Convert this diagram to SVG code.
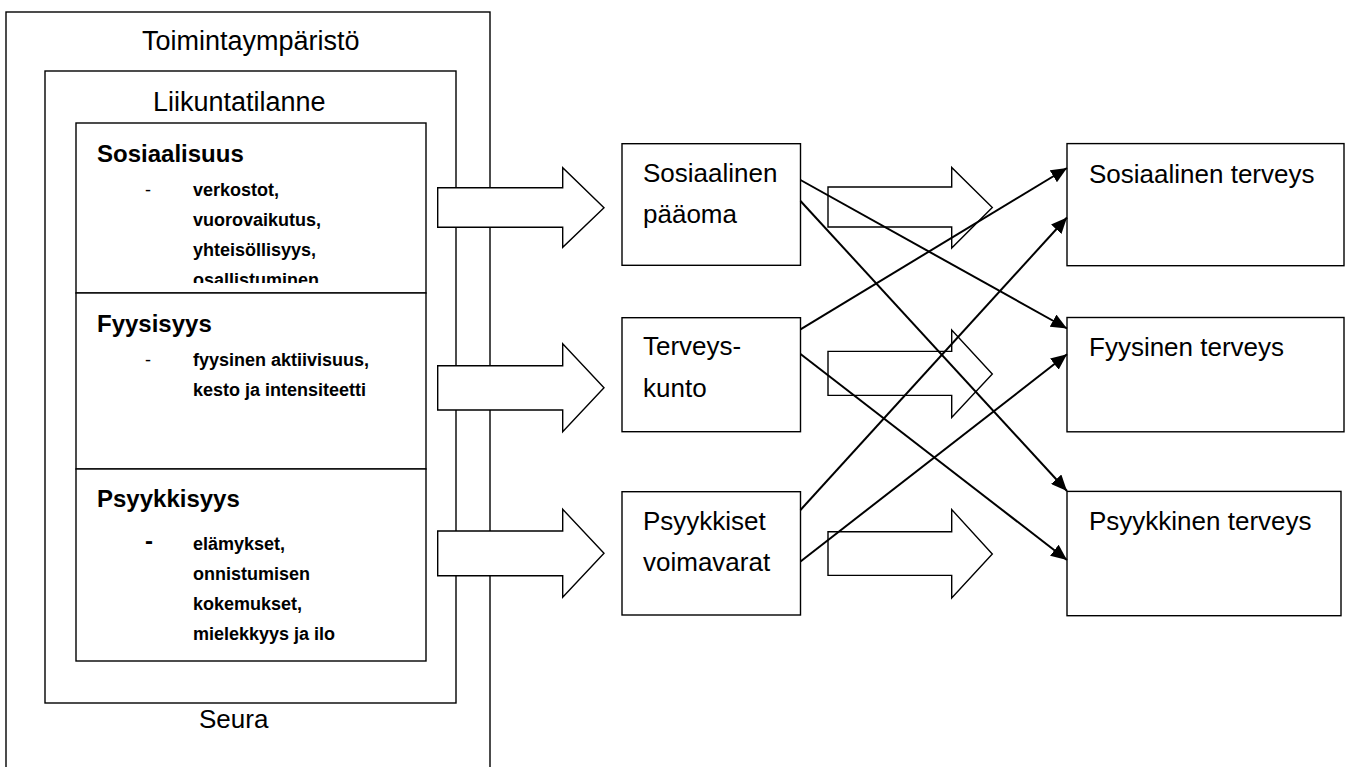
<svg xmlns="http://www.w3.org/2000/svg" width="1346" height="767" viewBox="0 0 1346 767">
<style>
.box{fill:#fff;stroke:#000;stroke-width:1.4}
.frame{fill:none;stroke:#000;stroke-width:1.4}
.barrow{fill:#fff;stroke:#000;stroke-width:1.4;stroke-linejoin:miter}
.con{fill:none;stroke:#000;stroke-width:2;marker-end:url(#ah)}
text{font-family:"Liberation Sans",Arial,sans-serif;fill:#000}
.t27{font-size:27px}
.t26{font-size:26px}
.h{font-size:24px;font-weight:bold}
.b{font-size:18px;font-weight:bold}
.d{font-size:18px}
</style>
<defs>
<marker id="ah" markerUnits="userSpaceOnUse" markerWidth="17" markerHeight="14" refX="16" refY="7" orient="auto">
<path d="M0,0 L16,7 L0,14 Z" fill="#000"/>
</marker>
<clipPath id="clipS"><rect x="76" y="123" width="350" height="160"/></clipPath>
</defs>
<rect width="1346" height="767" fill="#fff"/>

<g id="toimintaymparisto">
<rect class="frame" x="6" y="12" width="484" height="780"/>
<text class="t27" x="142" y="50">Toimintaympäristö</text>
<text class="t26" x="199" y="728">Seura</text>
</g>

<g id="liikuntatilanne">
<rect class="frame" x="45" y="71" width="411" height="632"/>
<text class="t27" x="153" y="111">Liikuntatilanne</text>
</g>

<g id="sosiaalisuus">
<rect class="box" x="76" y="123" width="350" height="170"/>
<text class="h" x="97" y="162">Sosiaalisuus</text>
<text class="d" x="145" y="196">-</text>
<g clip-path="url(#clipS)">
<text class="b" x="193" y="196">verkostot,</text>
<text class="b" x="193" y="226">vuorovaikutus,</text>
<text class="b" x="193" y="256">yhteisöllisyys,</text>
<text class="b" x="193" y="286">osallistuminen</text>
</g>
</g>

<g id="fyysisyys">
<rect class="box" x="76" y="293" width="350" height="176"/>
<text class="h" x="97" y="332">Fyysisyys</text>
<text class="d" x="145" y="366">-</text>
<text class="b" x="193" y="366">fyysinen aktiivisuus,</text>
<text class="b" x="193" y="396">kesto ja intensiteetti</text>
</g>

<g id="psyykkisyys">
<rect class="box" x="76" y="469" width="350" height="192"/>
<text class="h" x="97" y="507">Psyykkisyys</text>
<text class="h" x="145" y="549">-</text>
<text class="b" x="193" y="550">elämykset,</text>
<text class="b" x="193" y="580">onnistumisen</text>
<text class="b" x="193" y="610">kokemukset,</text>
<text class="b" x="193" y="640">mielekkyys ja ilo</text>
</g>

<g id="block-arrows">
<path class="barrow" d="M437.7,187.7 H562.7 V167.7 L604,207.7 L562.7,247.3 V227.3 H437.7 Z"/>
<path class="barrow" d="M437.7,365.7 H562.7 V343.7 L604,387.7 L562.7,431.7 V410 H437.7 Z"/>
<path class="barrow" d="M437.7,531 H562.7 V509.3 L604,553.3 L562.7,597.3 V575.7 H437.7 Z"/>
<path class="barrow" d="M828,187 H951.7 V167.5 L992.3,207.5 L951.7,248 V227 H828 Z"/>
<path class="barrow" d="M828,351.4 H951.7 V330 L992.3,374 L951.7,417.5 V395.4 H828 Z"/>
<path class="barrow" d="M828,531.8 H951.7 V509.6 L992.3,554 L951.7,597.9 V575.4 H828 Z"/>
</g>

<g id="sosiaalinen-paaoma">
<rect class="box" x="622" y="143.7" width="178.5" height="121.6"/>
<text class="t26" x="643" y="182">Sosiaalinen</text>
<text class="t26" x="643" y="223">pääoma</text>
</g>

<g id="terveyskunto">
<rect class="box" x="622" y="317.7" width="178.5" height="114"/>
<text class="t26" x="643" y="355">Terveys-</text>
<text class="t26" x="643" y="397">kunto</text>
</g>

<g id="psyykkiset-voimavarat">
<rect class="box" x="622" y="491.7" width="178.5" height="123.3"/>
<text class="t26" x="643" y="530">Psyykkiset</text>
<text class="t26" x="643" y="571">voimavarat</text>
</g>

<g id="sosiaalinen-terveys">
<rect class="box" x="1067" y="143.6" width="277" height="122.1"/>
<text class="t26" x="1089" y="183">Sosiaalinen terveys</text>
</g>

<g id="fyysinen-terveys">
<rect class="box" x="1067" y="317.5" width="277" height="114.3"/>
<text class="t26" x="1089" y="356">Fyysinen terveys</text>
</g>

<g id="psyykkinen-terveys">
<rect class="box" x="1067" y="491.4" width="274" height="124.3"/>
<text class="t26" x="1089" y="530">Psyykkinen terveys</text>
</g>

<g id="connectors">
<line class="con" x1="800.5" y1="180" x2="1067" y2="328.5"/>
<line class="con" x1="800.5" y1="201" x2="1067" y2="491"/>
<line class="con" x1="800.5" y1="329.3" x2="1067" y2="168"/>
<line class="con" x1="800.5" y1="354" x2="1067" y2="560"/>
<line class="con" x1="800.5" y1="510" x2="1067" y2="217.5"/>
<line class="con" x1="800.5" y1="561.5" x2="1067" y2="354.3"/>
</g>
</svg>
